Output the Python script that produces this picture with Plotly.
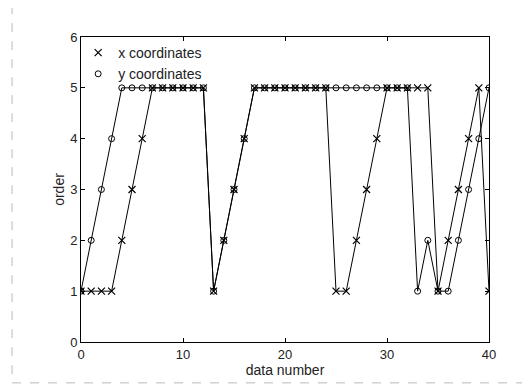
import plotly.graph_objects as go

idx = list(range(41))
x_coord_order = [1, 1, 1, 1, 2, 3, 4, 5, 5, 5, 5, 5, 5, 1, 2, 3, 4, 5, 5, 5, 5,
                 5, 5, 5, 5, 1, 1, 2, 3, 4, 5, 5, 5, 5, 5, 1, 2, 3, 4, 5, 1]
y_coord_order = [1, 2, 3, 4, 5, 5, 5, 5, 5, 5, 5, 5, 5, 1, 2, 3, 4, 5, 5, 5, 5,
                 5, 5, 5, 5, 5, 5, 5, 5, 5, 5, 5, 5, 1, 2, 1, 1, 2, 3, 4, 5]
x_ticks = [0, 10, 20, 30, 40]
y_ticks = [0, 1, 2, 3, 4, 5, 6]
legend_names = ["x coordinates", "y coordinates"]

FONT = "Liberation Sans, Arial, sans-serif"

fig = go.Figure()
fig.add_trace(go.Scatter(
    x=idx, y=x_coord_order, mode="lines+markers", showlegend=False,
    line=dict(color="black", width=1),
    marker=dict(symbol="x-thin-open", size=7, color="black", line=dict(width=1.2, color="black")),
))
fig.add_trace(go.Scatter(
    x=idx, y=y_coord_order, mode="lines+markers", showlegend=False,
    line=dict(color="black", width=1),
    marker=dict(symbol="circle-open", size=6, color="black", line=dict(width=1, color="black")),
))
# legend entries (marker only, as in the reference)
fig.add_trace(go.Scatter(
    x=[None], y=[None], mode="markers", name=legend_names[0],
    marker=dict(symbol="x-thin-open", size=7, color="black", line=dict(width=1.2, color="black")),
))
fig.add_trace(go.Scatter(
    x=[None], y=[None], mode="markers", name=legend_names[1],
    marker=dict(symbol="circle-open", size=6, color="black", line=dict(width=1, color="black")),
))

axis_common = dict(
    showline=True, linecolor="black", linewidth=1, mirror="ticks",
    ticks="inside", ticklen=4, tickcolor="black", showgrid=False, zeroline=False,
    tickfont=dict(family=FONT, size=13, color="#222"),
)

fig.update_layout(
    width=522, height=378,
    margin=dict(l=73, r=41, t=29, b=44),
    paper_bgcolor="white", plot_bgcolor="white",
    font=dict(family=FONT, size=13, color="#222"),
    xaxis=dict(range=[0, 40], tickvals=x_ticks,
               title=dict(text="data number", standoff=1, font=dict(family=FONT, size=14)),
               **axis_common),
    yaxis=dict(range=[0, 6], tickvals=y_ticks,
               title=dict(text="order", standoff=2, font=dict(family=FONT, size=14)),
               **axis_common),
    legend=dict(x=-0.007, y=1.0, xanchor="left", yanchor="top",
                bgcolor="rgba(0,0,0,0)", borderwidth=0,
                font=dict(family=FONT, size=14, color="#222"),
                itemwidth=30, tracegroupgap=0),
    shapes=[dict(type="rect", xref="paper", yref="paper",
                 x0=-0.169, x1=1.086, y0=-0.134, y1=1.108,
                 line=dict(color="#bbb", width=1, dash="dash"))],
)

fig.write_html("out.html")
